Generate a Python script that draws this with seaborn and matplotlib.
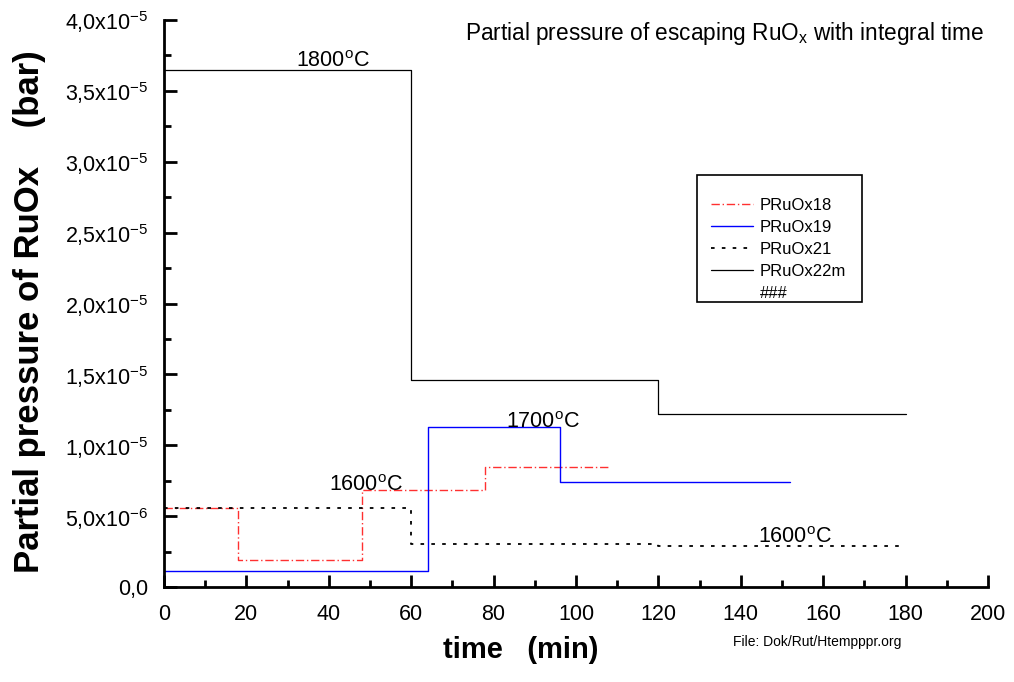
import numpy as np
import pandas as pd
import matplotlib
matplotlib.use("Agg")
import matplotlib.pyplot as plt
import seaborn as sns
from matplotlib.lines import Line2D
from matplotlib.patches import Rectangle
from matplotlib.ticker import MultipleLocator, FixedLocator

# ---- data (step breakpoints, minutes / bar) ----
t18 = [0, 18, 48, 78, 108]
p18 = [5.6e-6, 1.9e-6, 6.85e-6, 8.5e-6, 8.5e-6]
t19 = [0, 34, 64, 96, 152]
p19 = [1.15e-6, 1.1e-6, 1.13e-5, 7.4e-6, 7.4e-6]
t21 = [0, 60, 120, 180]
p21 = [5.6e-6, 3.0e-6, 2.9e-6, 2.9e-6]
t22 = [0, 60, 120, 180]
p22 = [3.65e-5, 1.46e-5, 1.22e-5, 1.22e-5]
series_names = ["PRuOx18", "PRuOx19", "PRuOx21", "PRuOx22m"]
ytick_vals = [0, 5e-6, 1e-5, 1.5e-5, 2e-5, 2.5e-5, 3e-5, 3.5e-5, 4e-5]
ytick_labels = ["0,0", r"5,0x10$^{-6}$", r"1,0x10$^{-5}$", r"1,5x10$^{-5}$",
                r"2,0x10$^{-5}$", r"2,5x10$^{-5}$", r"3,0x10$^{-5}$",
                r"3,5x10$^{-5}$", r"4,0x10$^{-5}$"]

sns.set_theme(style="ticks")
plt.rcParams["font.family"] = ["Liberation Sans", "DejaVu Sans"]
plt.rcParams["mathtext.fontset"] = "custom"
plt.rcParams["mathtext.rm"] = "Liberation Sans"
plt.rcParams["mathtext.it"] = "Liberation Sans"
plt.rcParams["mathtext.bf"] = "Liberation Sans:bold"
plt.rcParams["mathtext.default"] = "regular"
for key in ["text.color", "axes.labelcolor", "xtick.color", "ytick.color",
            "xtick.labelcolor", "ytick.labelcolor", "legend.labelcolor"]:
    plt.rcParams[key] = "black"

fig = plt.figure(figsize=(10.14, 6.82), dpi=100)
ax = fig.add_axes([164/1014, 1-587/682, (988-164)/1014, (587-20)/682])

styles = {
    "PRuOx18": dict(color="#ff3030", linestyle=(0, (6, 2, 1, 2)), lw=1.0),
    "PRuOx19": dict(color="#0000ff", linestyle="-", lw=1.0),
    "PRuOx21": dict(color="black", linestyle=(0, (2, 4)), lw=1.3),
    "PRuOx22m": dict(color="black", linestyle="-", lw=0.9),
}
for name, t, p in zip(series_names, [t18, t19, t21, t22], [p18, p19, p21, p22]):
    df = pd.DataFrame({"time": t, "p": p})
    sns.lineplot(data=df, x="time", y="p", ax=ax, drawstyle="steps-post",
                 estimator=None, sort=False, label=name, **styles[name])

ax.set_xlim(0, 200)
ax.set_ylim(0, 4e-5)
ax.xaxis.set_major_locator(MultipleLocator(20))
ax.xaxis.set_minor_locator(MultipleLocator(10))
ax.yaxis.set_major_locator(FixedLocator(ytick_vals))
ax.yaxis.set_minor_locator(MultipleLocator(2.5e-6))
ax.set_yticklabels(ytick_labels)
ax.tick_params(axis="both", which="major", direction="in", length=9, width=2,
               labelsize=15.5, colors="black")
ax.tick_params(axis="both", which="minor", direction="in", length=5, width=2, colors="black")
ax.tick_params(axis="x", which="major", pad=12)
ax.tick_params(axis="y", which="major", pad=11)
for s in ["top", "right"]:
    ax.spines[s].set_visible(False)
for s in ["left", "bottom"]:
    ax.spines[s].set_linewidth(2)
    ax.spines[s].set_color("black")

ax.set_xlabel("")
ax.set_ylabel("Partial pressure of RuOx    (bar)", fontsize=25, fontweight="bold", color="black")
ax.yaxis.set_label_coords((46 - 164) / 824, (587 - 312) / 567)
fig.text(521/1014, 1-650/682, "time   (min)", ha="center", va="center",
         fontsize=21, fontweight="bold", color="black")

deg = r"$^{o}$C"
ax.text(41, 3.67e-5, "1800" + deg, ha="center", va="baseline", fontsize=15.5, color="black")
ax.text(49, 6.75e-6, "1600" + deg, ha="center", va="baseline", fontsize=15.5, color="black")
ax.text(92, 1.125e-5, "1700" + deg, ha="center", va="baseline", fontsize=15.5, color="black")
ax.text(153, 3.1e-6, "1600" + deg, ha="center", va="baseline", fontsize=15.5, color="black")

fig.text(465/1014, 1-40/682, r"Partial pressure of escaping RuO$_{x}$ with integral time",
         ha="left", va="baseline", fontsize=16.3, color="black")
fig.text(733/1014, 1-646/682, "File: Dok/Rut/Htempppr.org", ha="left", va="baseline",
         fontsize=10, color="black")

handles, labels = ax.get_legend_handles_labels()
handles.append(Line2D([], [], color="none"))
labels.append("###")
leg = ax.legend(handles, labels, loc="upper left", bbox_to_anchor=(705/1014, 1-175/682),
                bbox_transform=fig.transFigure, fontsize=12, frameon=False,
                handlelength=2.5, borderpad=0.35, labelspacing=0.42, handletextpad=0.45,
                borderaxespad=0, title=" ", title_fontsize=8, labelcolor="black")
fig.patches.append(Rectangle((697/1014, 1-302/682), 165/1014, 127/682,
                             transform=fig.transFigure, fill=False,
                             edgecolor="black", linewidth=1.2, zorder=5))

fig.savefig("out.png", dpi=100)
